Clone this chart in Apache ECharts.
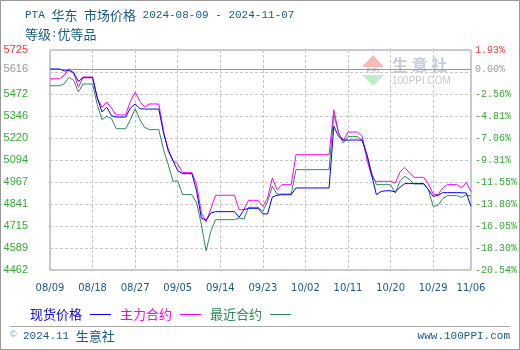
<!DOCTYPE html>
<html><head><meta charset="utf-8">
<script src="https://cdn.jsdelivr.net/npm/echarts@6/dist/echarts.min.js"></script>
<style>html,body{margin:0;padding:0;background:#fff}#c{width:520px;height:350px}</style>
</head><body><div id="c"></div>
<script>
const dates = [
'08/09','08/10','08/11','08/12','08/13','08/14','08/15','08/16','08/17','08/18','08/19','08/20','08/21','08/22','08/23','08/24','08/25','08/26','08/27','08/28','08/29','08/30','08/31',
'09/01','09/02','09/03','09/04','09/05','09/06','09/07','09/08','09/09','09/10','09/11','09/12','09/13','09/14','09/15','09/16','09/17','09/18','09/19','09/20','09/21','09/22','09/23','09/24','09/25','09/26','09/27','09/28','09/29','09/30',
'10/01','10/02','10/03','10/04','10/05','10/06','10/07','10/08','10/09','10/10','10/11','10/12','10/13','10/14','10/15','10/16','10/17','10/18','10/19','10/20','10/21','10/22','10/23','10/24','10/25','10/26','10/27','10/28','10/29','10/30','10/31',
'11/01','11/02','11/03','11/04','11/05','11/06'
];
const xTickLabels = ['08/09','08/18','08/27','09/05','09/14','09/23','10/02','10/11','10/20','10/29','11/06'];

const spot = [
5616,5616,5616,5605,5607,5595,5545,5566,5566,5566,
5450,5369,5396,5348,5340,5340,5340,5392,5415,5388,
5386,5386,5386,5386,5249,5153,5090,5032,5015,5015,
5015,4914,4760,4748,4789,4797,4797,4797,4797,4797,
4765,4808,4816,4816,4816,4784,4784,4881,4891,4894,
4894,4894,4933,4933,4933,4933,4933,4933,4933,4933,
5287,5229,5208,5208,5208,5208,5208,5124,5009,4894,
4913,4917,4917,4910,4937,4958,4958,4958,4958,4958,
4923,4885,4890,4906,4906,4906,4906,4906,4904,4828
];
const mainContract = [
5560,5560,5560,5580,5618,5593,5511,5570,5570,5570,
5449,5396,5426,5392,5352,5352,5352,5430,5482,5430,
5398,5415,5415,5415,5258,5143,5090,5071,5021,5021,
5021,4952,4789,4739,4814,4891,4891,4891,4891,4891,
4807,4810,4862,4862,4862,4827,4875,4990,4923,4952,
4952,4952,5124,5124,5124,5124,5124,5124,5124,5124,
5382,5249,5205,5254,5254,5254,5229,5095,4999,4971,
4971,4971,4971,4961,5025,5051,5019,4994,4994,4994,
4956,4898,4894,4933,4952,4952,4952,4933,4965,4913
];
const nearestContract = [
5520,5520,5520,5530,5568,5551,5484,5530,5530,5530,
5411,5325,5344,5331,5273,5273,5273,5325,5388,5325,
5281,5268,5268,5268,5153,5067,4971,4975,4896,4896,
4894,4847,4722,4572,4684,4751,4751,4751,4751,4751,
4760,4755,4822,4822,4822,4799,4856,4942,4898,4898,
4898,4898,5038,5038,5038,5038,5038,5038,5038,5038,
5357,5249,5191,5229,5229,5229,5205,5124,5019,4952,
4952,4952,4952,4904,4975,5000,4981,4956,4956,4956,
4923,4827,4833,4871,4889,4889,4889,4879,4894,4885
];

const Y_MIN = 4462;
const Y_MAX = 5725;
const BASE_PRICE = 5616;
const leftTickLabels = ['4462','4589','4715','4841','4967','5094','5220','5346','5472','','5725'];
const rightTickLabels = ['-20.54%','-18.30%','-16.05%','-13.80%','-11.55%','-9.31%','-7.06%','-4.81%','-2.56%','','1.93%'];
const BASE_LEFT = '5616';
const BASE_RIGHT = '0.00%';

const STEP = (Y_MAX - Y_MIN) / 10;
const off = arr => arr.map(v => v - Y_MIN);
const tickIdx = v => Math.round(v / STEP);
const labelColor = (v) => tickIdx(v) === 10 ? '#ff3333' : '#33aa33';

const chart = echarts.init(document.getElementById('c'), null, {renderer: 'canvas'});
const MONO = "'Liberation Mono','Noto Sans CJK SC',monospace";
const CJK = "'Noto Sans CJK SC',sans-serif";
const TXT = '#1a5a8a';

chart.setOption({
  animation: false,
  grid: {left: 50, right: 49, top: 50, bottom: 80, show: true, borderColor: '#999', borderWidth: 1, backgroundColor: 'transparent'},
  legend: {
    left: 25, top: 303, align: 'right', icon: 'rect', itemWidth: 21, itemHeight: 1, itemGap: 9,
    textStyle: {fontFamily: CJK, fontSize: 13, padding: [0, 3, 0, 0]},
    data: [
      {name: '现货价格', textStyle: {color: '#0000ff'}},
      {name: '主力合约', textStyle: {color: '#ff00ff'}},
      {name: '最近合约', textStyle: {color: '#2e8b57'}}
    ]
  },
  xAxis: {
    type: 'category', data: dates, boundaryGap: false,
    axisLine: {show: false}, axisTick: {show: false},
    axisLabel: {
      interval: (i, v) => xTickLabels.indexOf(v) >= 0,
      color: TXT, fontFamily: "'DejaVu Sans',sans-serif", fontSize: 10, margin: 13
    },
    splitLine: {show: true, interval: (i, v) => xTickLabels.indexOf(v) >= 0, lineStyle: {color: '#c8c8c8', type: [3, 2], width: 1}}
  },
  yAxis: [
    {
      type: 'value', min: 0, max: Y_MAX - Y_MIN, interval: STEP,
      axisLine: {show: false}, axisTick: {show: false},
      axisLabel: {
        formatter: v => leftTickLabels[tickIdx(v)] || '',
        color: labelColor, fontFamily: "'Liberation Sans',sans-serif", fontSize: 11, margin: 22
      },
      splitLine: {show: true, lineStyle: {color: '#c8c8c8', type: [3, 2], width: 1}}
    },
    {
      type: 'value', min: 0, max: Y_MAX - Y_MIN, interval: STEP, position: 'right',
      axisLine: {show: false}, axisTick: {show: false}, splitLine: {show: false},
      axisLabel: {
        formatter: v => rightTickLabels[tickIdx(v)] || '',
        color: labelColor, fontFamily: MONO, fontSize: 10, margin: 4
      }
    }
  ],
  series: [
    {
      name: '现货价格', type: 'line', data: off(spot), showSymbol: false, z: 5,
      lineStyle: {color: '#0000ff', width: 1}, itemStyle: {color: '#0000ff'},
      markLine: {
        silent: true, symbol: 'none', z: 1,
        lineStyle: {color: '#999', type: 'solid', width: 1},
        data: [
          {yAxis: BASE_PRICE - Y_MIN, label: {show: true, position: 'start', formatter: BASE_LEFT, color: '#999', fontFamily: "'Liberation Sans',sans-serif", fontSize: 11, distance: 22}},
          {yAxis: BASE_PRICE - Y_MIN, label: {show: true, position: 'end', formatter: BASE_RIGHT, color: '#999', fontFamily: MONO, fontSize: 10, distance: 4}}
        ]
      }
    },
    {
      name: '主力合约', type: 'line', data: off(mainContract), showSymbol: false, z: 4,
      lineStyle: {color: '#ff00ff', width: 1}, itemStyle: {color: '#ff00ff'}
    },
    {
      name: '最近合约', type: 'line', data: off(nearestContract), showSymbol: false, z: 3,
      lineStyle: {color: '#2e8b57', width: 1}, itemStyle: {color: '#2e8b57'}
    }
  ],
  graphic: [
    {type: 'rect', shape: {x: 0.5, y: 0.5, width: 519, height: 349}, style: {fill: 'none', stroke: '#999', lineWidth: 1}, silent: true, z: 0},
    {type: 'polygon', shape: {points: [[362, 67], [373, 55], [384, 67]]}, style: {fill: '#f5bcb4'}, silent: true, z: 0},
    {type: 'polygon', shape: {points: [[362, 75], [384, 75], [373, 86]]}, style: {fill: '#c2ecc8'}, silent: true, z: 0},
    {type: 'text', x: 373, y: 71, style: {text: 'PPI', fill: '#c8c8d4', font: "bold 8px 'Liberation Sans'", align: 'center', verticalAlign: 'middle'}, silent: true, z: 0},
    {type: 'text', x: 392, y: 65, style: {text: '生 意 社', fill: '#c8cce0', font: "bold 16px 'Noto Sans CJK SC'", verticalAlign: 'middle'}, silent: true, z: 0},
    {type: 'text', x: 392, y: 81, style: {text: '100PPI.COM', fill: '#c8c8c8', font: "10px 'Liberation Sans'", verticalAlign: 'middle'}, silent: true, z: 0},
    {type: 'text', x: 25, y: 15, style: {
      text: '{a|PTA }{c|华东}{a| }{c|市场价格}{a| 2024-08-09 - 2024-11-07}', verticalAlign: 'middle',
      rich: {a: {font: "11px 'Liberation Mono'", fill: TXT}, c: {font: "13px 'Noto Sans CJK SC'", fill: TXT}}
    }, silent: true},
    {type: 'text', x: 25, y: 34, style: {
      text: '{c|等级}{a|:}{c|优等品}', verticalAlign: 'middle',
      rich: {a: {font: "11px 'Liberation Mono'", fill: TXT}, c: {font: "13px 'Noto Sans CJK SC'", fill: TXT}}
    }, silent: true},
    {type: 'line', shape: {x1: 10, y1: 326.5, x2: 510, y2: 326.5}, style: {stroke: '#aaa', lineWidth: 1}, silent: true},
    {type: 'text', x: 10, y: 335, style: {text: '©', fill: '#8aa0b0', font: "9px 'Liberation Sans'", verticalAlign: 'middle'}, silent: true},
    {type: 'text', x: 23, y: 336, style: {
      text: '{a|2024.11 }{c|生意社}', verticalAlign: 'middle',
      rich: {a: {font: "11px 'Liberation Mono'", fill: TXT}, c: {font: "13px 'Noto Sans CJK SC'", fill: TXT}}
    }, silent: true},
    {type: 'text', x: 510, y: 336, style: {text: 'www.100PPI.com', fill: TXT, font: "11px 'Liberation Mono'", align: 'right', verticalAlign: 'middle'}, silent: true}
  ]
});
</script>
</body></html>
